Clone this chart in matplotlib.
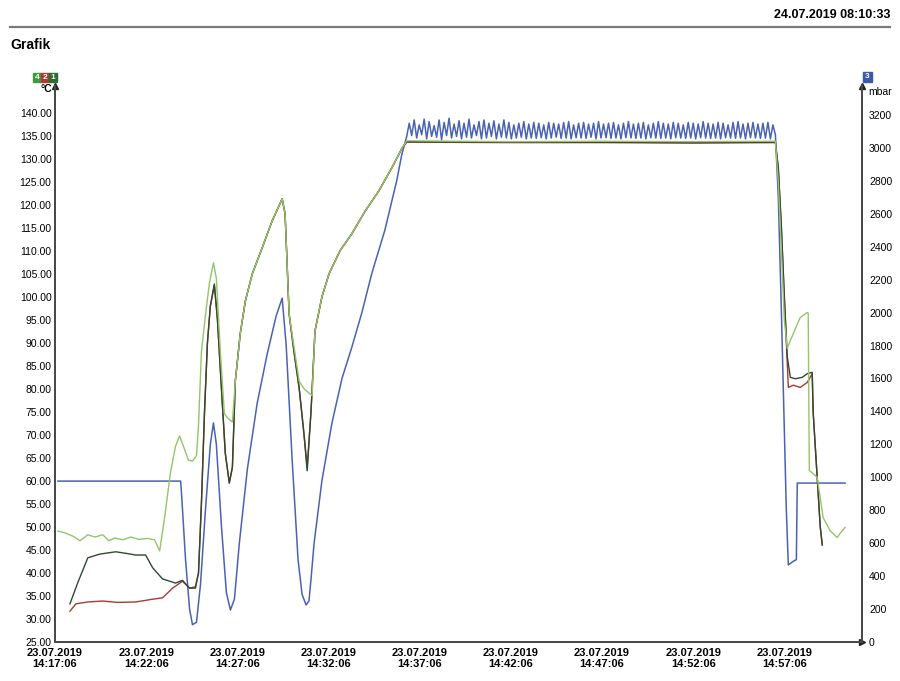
import matplotlib.pyplot as plt
import matplotlib.patches as mpatches
import numpy as np

plt.rcParams['font.family'] = ['Liberation Sans', 'DejaVu Sans']

# Zeit in Minuten nach 23.07.2019 14:17:06
tick_min = [0, 5, 10, 15, 20, 25, 30, 35, 40]
tick_labels = ['14:17:06', '14:22:06', '14:27:06', '14:32:06', '14:37:06',
               '14:42:06', '14:47:06', '14:52:06', '14:57:06']
tick_date = '23.07.2019'

temp_ticks = [25, 30, 35, 40, 45, 50, 55, 60, 65, 70, 75, 80, 85, 90, 95,
              100, 105, 110, 115, 120, 125, 130, 135, 140]
mbar_ticks = [0, 200, 400, 600, 800, 1000, 1200, 1400, 1600, 1800, 2000,
              2200, 2400, 2600, 2800, 3000, 3200]

# Fuehler 4 (hellgruen)
green_t = [0.16, 0.55, 0.98, 1.37, 1.80, 2.19, 2.62, 2.95, 3.28, 3.72, 4.15, 4.59,
           5.08, 5.46, 5.74, 6.01, 6.34, 6.61, 6.83, 7.05, 7.32, 7.54, 7.76, 7.87,
           8.03, 8.25, 8.47, 8.69, 8.85, 9.07, 9.29, 9.51, 9.73, 9.89, 10.16, 10.44,
           10.82, 11.37, 11.91, 12.46, 12.62, 12.84, 13.39, 13.66, 14.10, 14.26,
           14.64, 15.03, 15.63, 16.28, 16.99, 17.76, 18.47, 19.02, 19.29, 25.0,
           30.0, 35.0, 39.51, 39.67, 39.84, 40.00, 40.16, 40.33, 40.60, 40.87,
           41.26, 41.31, 41.37, 41.80, 42.13, 42.51, 42.90, 43.06, 43.33]
green_v = [49.1, 48.7, 48.0, 47.0, 48.3, 47.8, 48.3, 47.0, 47.6, 47.2, 47.8, 47.3,
           47.5, 47.2, 44.8, 52.0, 62.0, 67.5, 69.8, 67.5, 64.5, 64.3, 65.5, 72.0,
           88.0, 96.0, 103.0, 107.4, 104.0, 88.0, 74.6, 73.5, 72.8, 81.7, 92.0, 99.1,
           105.0, 110.7, 116.5, 121.3, 118.0, 96.3, 81.7, 80.0, 78.5, 92.6,
           100.0, 105.0, 110.0, 113.7, 118.5, 123.0, 128.0, 132.2, 133.9, 133.7,
           133.8, 133.7, 133.8, 125.0, 110.0, 95.0, 88.8, 90.5, 93.0, 95.5,
           96.6, 96.4, 62.3, 60.8, 52.0, 49.2, 47.7, 48.6, 49.9]

# Fuehler 1 (dunkelgruen)
dark_t = [0.82, 1.26, 1.80, 2.46, 3.33, 3.99, 4.43, 4.97, 5.36, 5.90, 6.61, 6.99,
          7.38, 7.70, 7.87, 8.03, 8.20, 8.36, 8.52, 8.74, 8.91, 9.13, 9.34, 9.56,
          9.73, 9.89, 10.16, 10.44, 10.82, 11.37, 11.91, 12.46, 12.62, 12.84,
          13.11, 13.39, 13.66, 13.83, 14.04, 14.26, 14.64, 15.03, 15.63, 16.28,
          16.99, 17.76, 18.47, 19.02, 19.29, 25.0, 30.0, 35.0, 39.51, 39.67,
          39.84, 40.00, 40.16, 40.33, 40.60, 40.98, 41.26, 41.53, 41.58, 41.97,
          42.08]
dark_v = [33.3, 38.0, 43.3, 44.1, 44.6, 44.2, 43.9, 43.9, 41.1, 38.7, 37.8, 38.4,
          36.7, 36.7, 40.0, 55.0, 75.0, 90.0, 98.0, 102.8, 95.0, 80.0, 66.0, 59.5,
          63.0, 81.7, 92.0, 99.1, 105.0, 110.7, 116.5, 121.3, 118.0, 96.3,
          88.0, 80.2, 70.0, 62.2, 75.0, 92.6, 100.0, 105.0, 110.0, 113.7,
          118.5, 123.0, 128.0, 132.2, 133.7, 133.6, 133.6, 133.5, 133.6, 128.0,
          115.0, 100.0, 87.0, 82.5, 82.2, 82.5, 83.3, 83.6, 75.0, 50.0,
          46.2]

# Fuehler 2 (rot)
red_t = [0.82, 1.15, 1.80, 2.62, 3.44, 4.43, 5.36, 5.90, 6.45, 6.99, 7.38, 7.70,
         7.87, 8.03, 8.20, 8.36, 8.52, 8.74, 8.91, 9.13, 9.34, 9.56, 9.73, 9.89,
         10.16, 10.44, 10.82, 11.37, 11.91, 12.46, 12.62, 12.84, 13.11, 13.39,
         13.66, 13.83, 14.04, 14.26, 14.64, 15.03, 15.63, 16.28, 16.99, 17.76,
         18.47, 19.02, 19.29, 25.0, 30.0, 35.0, 39.51, 39.67, 39.84, 40.00,
         40.22, 40.49, 40.87, 41.26, 41.53, 41.58, 41.97, 42.08]
red_v = [31.7, 33.3, 33.7, 33.9, 33.6, 33.7, 34.3, 34.6, 36.7, 38.2, 36.7, 37.0,
         40.0, 55.0, 75.0, 90.0, 98.0, 102.5, 95.0, 80.0, 66.0, 59.6, 63.0, 81.7,
         92.0, 99.1, 105.0, 110.7, 116.5, 121.3, 118.0, 96.3, 88.0, 80.2,
         70.0, 63.0, 75.0, 92.6, 100.0, 105.0, 110.0, 113.7, 118.5, 123.0,
         128.0, 132.2, 133.6, 133.5, 133.5, 133.4, 133.5, 128.0, 115.0, 100.0,
         80.3, 80.8, 80.3, 81.4, 83.3, 75.0, 50.0, 46.0]

# Druck 3 (blau, mbar)
blue_t = [0.16, 6.89, 6.94, 7.16, 7.38, 7.54, 7.76, 7.98, 8.25, 8.52, 8.69, 8.85,
          9.13, 9.40, 9.62, 9.84, 10.11, 10.55, 11.09, 11.64, 12.13, 12.46,
          12.68, 13.01, 13.33, 13.55, 13.77, 13.93, 14.04, 14.21, 14.64, 15.19,
          15.74, 16.28, 16.83, 17.38, 18.09, 18.74, 19.02, 19.29]
blue_v = [977, 977, 900, 500, 200, 105, 120, 350, 800, 1200, 1330, 1200,
          700, 300, 194, 260, 600, 1050, 1450, 1750, 1980, 2088,
          1800, 1100, 500, 290, 225, 250, 380, 600, 980, 1330,
          1600, 1790, 2000, 2240, 2500, 2800, 2960, 3070]
plateau_start, plateau_end = 19.29, 39.51
plateau_peaks = [3150, 3170, 3140, 3175, 3160, 3135, 3170, 3155, 3180, 3145,
                 3165, 3150, 3175, 3140, 3160, 3170, 3150, 3165, 3145, 3170,
                 3155, 3140, 3150, 3160, 3145, 3155, 3150, 3140, 3155, 3150,
                 3145, 3155, 3160, 3140, 3150, 3155, 3145, 3150, 3160, 3145,
                 3150, 3155, 3140, 3150, 3160, 3145, 3150, 3155, 3140, 3150,
                 3160, 3150, 3145, 3155, 3150, 3140, 3155, 3150, 3145, 3160,
                 3150, 3145, 3155, 3150, 3140, 3155, 3160, 3145, 3150, 3155,
                 3145, 3150, 3155, 3140]
plateau_troughs = [3075, 3060, 3080, 3055, 3070, 3065, 3050, 3075, 3060, 3070,
                   3055, 3065, 3060, 3075, 3055, 3060, 3070, 3055, 3065, 3060,
                   3055, 3060, 3065, 3055, 3060, 3058, 3062, 3055, 3060, 3065,
                   3058, 3060, 3055, 3062, 3060, 3058, 3065, 3055, 3060, 3062,
                   3058, 3060, 3055, 3062, 3060, 3058, 3060, 3055, 3062, 3060,
                   3058, 3060, 3055, 3062, 3060, 3058, 3060, 3055, 3062, 3060,
                   3058, 3060, 3055, 3062, 3060, 3058, 3060, 3055, 3062, 3060,
                   3058, 3060, 3055, 3080]
blue_end_t = [39.67, 39.84, 40.00, 40.11, 40.22, 40.49, 40.66, 40.71, 43.33]
blue_end_v = [2700, 2000, 1300, 800, 468, 490, 500, 965, 965]

# Plateau: Spitzen und Taeler abwechselnd einsortieren
n = len(plateau_peaks)
period = (plateau_end - plateau_start) / n
pl_t, pl_v = [], []
for i in range(n):
    pl_t += [plateau_start + (i + 0.5) * period, plateau_start + (i + 1) * period]
    pl_v += [plateau_peaks[i], plateau_troughs[i]]
blue_all_t = blue_t + pl_t + blue_end_t
blue_all_v = blue_v + pl_v + blue_end_v

fig = plt.figure(figsize=(9, 6.81), dpi=100)
ax = fig.add_axes([55 / 900, 39 / 681, 807 / 900, 556 / 681])
ax2 = ax.twinx()

c_green = '#95c46a'
c_dark = '#2f4a30'
c_red = '#a63a34'
c_blue = '#4a62b2'

ax2.plot(blue_all_t, blue_all_v, color=c_blue, lw=1.1)
ax.plot(red_t, red_v, color=c_red, lw=1.0)
ax.plot(dark_t, dark_v, color=c_dark, lw=1.0)
ax.plot(green_t, green_v, color=c_green, lw=1.0)
ax.set_zorder(ax2.get_zorder() + 1)
ax.patch.set_visible(False)

ax.set_xlim(0.16, 44.26)
ax.set_ylim(25, 145.8)
ax2.set_ylim(0, 3376)

ax.set_yticks(temp_ticks)
ax.set_yticklabels(['%.2f' % v for v in temp_ticks])
ax2.set_yticks(mbar_ticks)
ax2.set_yticklabels([str(v) for v in mbar_ticks])
ax.set_xticks(tick_min)
ax.set_xticklabels([tick_date + '\n' + s for s in tick_labels])

ax.tick_params(axis='y', length=0, pad=2.5, labelsize=7.5)
ax2.tick_params(axis='y', length=0, pad=5, labelsize=7.5)
ax.tick_params(axis='x', length=0, pad=4, labelsize=8)
for lab in ax.get_xticklabels():
    lab.set_fontweight('bold')
    lab.set_linespacing(1.2)

for a in (ax, ax2):
    a.spines['top'].set_visible(False)
    for s in ('left', 'right', 'bottom'):
        a.spines[s].set_color('#4a4a4a')
        a.spines[s].set_linewidth(1.4)

# Pfeile an den Achsen
ax.plot(0, 1, '^', color='#222222', ms=5, transform=ax.transAxes, clip_on=False)
ax.plot(1, 1, '^', color='#222222', ms=5, transform=ax.transAxes, clip_on=False)
ax.plot(1, 0, '>', color='#222222', ms=5, transform=ax.transAxes, clip_on=False)

# Kopfzeile
fig.text(890 / 900, 1 - 15 / 681, '24.07.2019 08:10:33', ha='right', va='center',
         fontsize=9, fontweight='bold')
fig.add_artist(plt.Line2D([10 / 900, 890 / 900], [1 - 27 / 681, 1 - 27 / 681],
                          color='#7a7a7a', lw=1.6))
fig.text(10 / 900, 1 - 45 / 681, 'Grafik', ha='left', va='center',
         fontsize=10, fontweight='bold')

# Kanal-Kaestchen
boxes = [(33, '4', '#3f9a3f'), (41, '2', '#b03a32'), (49, '1', '#2f6a35')]
for x0, txt, col in boxes:
    fig.add_artist(mpatches.Rectangle((x0 / 900, 1 - 82 / 681), 8 / 900, 9 / 681,
                                      color=col, transform=fig.transFigure))
    fig.text((x0 + 4) / 900, 1 - 77.5 / 681, txt, ha='center', va='center',
             fontsize=6, color='white', fontweight='bold')
fig.add_artist(mpatches.Rectangle((863 / 900, 1 - 82 / 681), 9 / 900, 10 / 681,
                                  color='#3a5aa8', transform=fig.transFigure))
fig.text(867.5 / 900, 1 - 77 / 681, '3', ha='center', va='center',
         fontsize=6, color='white', fontweight='bold')

fig.text(52 / 900, 1 - 89 / 681, '°C', ha='right', va='center', fontsize=7.5,
         fontweight='bold')
fig.text(868 / 900, 1 - 92 / 681, 'mbar', ha='left', va='center', fontsize=7.5)

fig.savefig('out.png', dpi=100)
